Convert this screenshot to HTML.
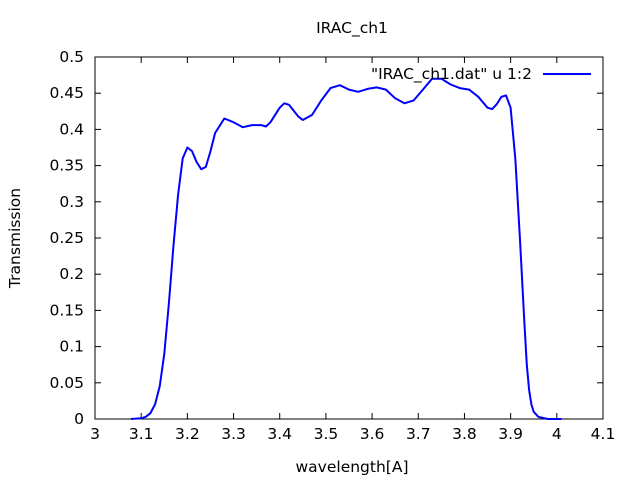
<!DOCTYPE html>
<html><head><meta charset="utf-8"><style>
body{margin:0;background:#fff}
svg text{font-family:"DejaVu Sans","Liberation Sans",sans-serif;font-size:15.5px;fill:#000}
</style></head><body>
<svg id="chart" width="640" height="480">
<text x="352" y="33" text-anchor="middle">IRAC_ch1</text>
<text x="352" y="472" text-anchor="middle">wavelength[A]</text>
<text transform="translate(20,238) rotate(-90)" text-anchor="middle">Transmission</text>
<g id="axes"></g>
<rect x="95" y="57" width="508" height="362" fill="none" stroke="#000" stroke-width="1"/>
<path id="line" fill="none" stroke="#0000ff" stroke-width="2" stroke-linejoin="round"/>
<text x="532" y="79" text-anchor="end">"IRAC_ch1.dat" u 1:2</text>
<line x1="543" y1="74" x2="591" y2="74" stroke="#0000ff" stroke-width="2"/>
</svg>
<script>
const wavelengths=[3.078,3.10,3.11,3.12,3.13,3.14,3.15,3.16,3.17,3.18,3.19,3.20,3.21,3.22,3.23,3.24,3.25,3.26,3.28,3.30,3.32,3.34,3.36,3.37,3.38,3.40,3.41,3.42,3.44,3.45,3.47,3.49,3.51,3.53,3.55,3.57,3.59,3.61,3.63,3.65,3.67,3.69,3.71,3.73,3.75,3.77,3.79,3.81,3.83,3.85,3.86,3.87,3.88,3.89,3.90,3.91,3.92,3.93,3.935,3.94,3.945,3.95,3.96,3.98,4.01];
const transmission=[0,0.001,0.003,0.008,0.02,0.045,0.09,0.16,0.24,0.31,0.36,0.375,0.37,0.355,0.345,0.348,0.37,0.395,0.415,0.41,0.403,0.406,0.406,0.404,0.41,0.43,0.436,0.434,0.418,0.413,0.42,0.44,0.457,0.461,0.455,0.452,0.456,0.458,0.455,0.443,0.436,0.44,0.455,0.47,0.47,0.462,0.457,0.455,0.445,0.43,0.428,0.435,0.445,0.447,0.43,0.36,0.25,0.13,0.075,0.04,0.02,0.01,0.003,0,0];
const xTicks=["3","3.1","3.2","3.3","3.4","3.5","3.6","3.7","3.8","3.9","4","4.1"];
const yTicks=["0","0.05","0.1","0.15","0.2","0.25","0.3","0.35","0.4","0.45","0.5"];
const X=v=>95+(v-3.0)/1.1*508, Y=v=>419-v/0.5*362;
const ns="http://www.w3.org/2000/svg", ax=document.getElementById('axes');
function mk(t,a){const e=document.createElementNS(ns,t);for(const k in a)e.setAttribute(k,a[k]);return e;}
xTicks.forEach(t=>{const x=X(+t);
 const l1=mk('line',{x1:x,y1:419,x2:x,y2:413,stroke:'#000'});ax.appendChild(l1);
 const l2=mk('line',{x1:x,y1:57,x2:x,y2:63,stroke:'#000'});ax.appendChild(l2);
 const tx=mk('text',{x:x,y:439,'text-anchor':'middle'});tx.textContent=t;ax.appendChild(tx);});
yTicks.forEach(t=>{const y=Y(+t);
 const l1=mk('line',{x1:95,y1:y,x2:101,y2:y,stroke:'#000'});ax.appendChild(l1);
 const l2=mk('line',{x1:603,y1:y,x2:597,y2:y,stroke:'#000'});ax.appendChild(l2);
 const tx=mk('text',{x:84,y:y+5,'text-anchor':'end'});tx.textContent=t;ax.appendChild(tx);});
document.getElementById('line').setAttribute('d',wavelengths.map((w,i)=>(i?'L':'M')+X(w).toFixed(1)+','+Y(transmission[i]).toFixed(1)).join(''));
</script>
</body></html>
